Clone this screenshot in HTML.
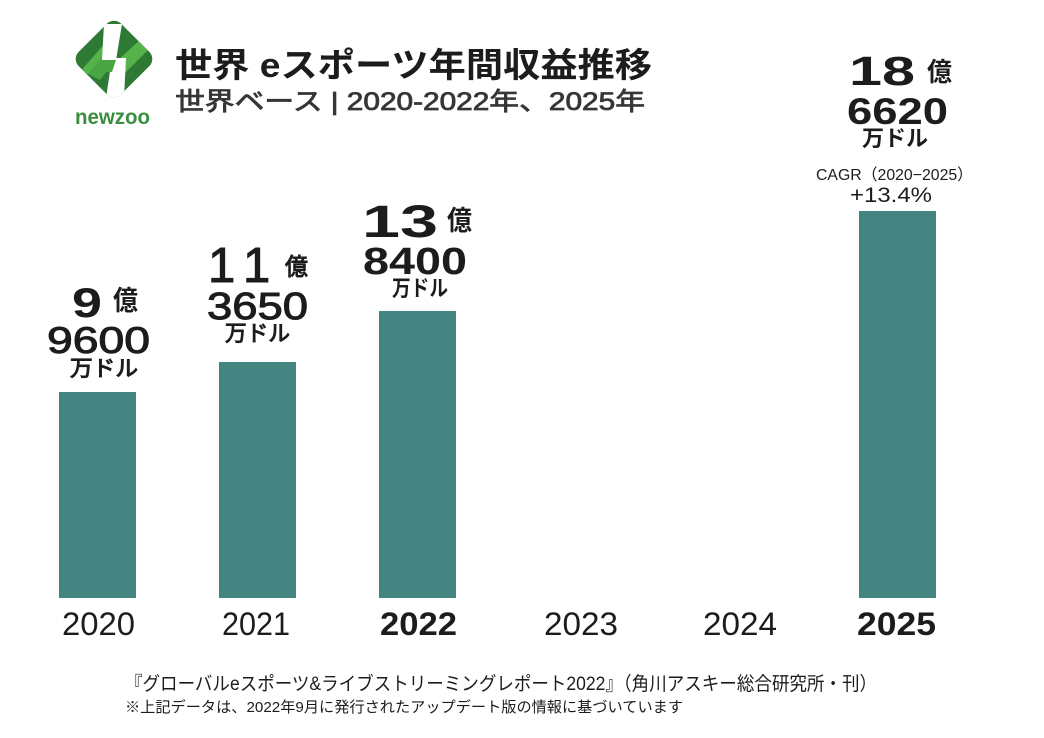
<!DOCTYPE html>
<html>
<head>
<meta charset="utf-8">
<style>
  html,body{margin:0;padding:0;background:#fff;}
  svg{display:block;}
  text{font-family:"Liberation Sans","Noto Sans CJK JP",sans-serif;fill:#1c1c1c;}
  .b{font-weight:700;}
  .m{stroke:#1c1c1c;stroke-width:1;}
</style>
</head>
<body>
<svg width="1044" height="738" viewBox="0 0 1044 738" xmlns="http://www.w3.org/2000/svg">
  <rect x="0" y="0" width="1044" height="738" fill="#ffffff"/>

  <!-- Logo -->
  <defs>
    <clipPath id="dm">
      <rect x="84" y="29" width="60" height="60" rx="10" ry="10" transform="rotate(45 114 59)"/>
    </clipPath>
  </defs>
  <rect x="84" y="29" width="60" height="60" rx="10" ry="10" transform="rotate(45 114 59)" fill="#2e7a35"/>
  <g clip-path="url(#dm)">
    <polygon points="78,74 106,42 116,42 88,74" fill="#56b24b"/>
    <polygon points="88,74 116,42 116,60 100,80" fill="#4aa543"/>
    <polygon points="116,62 142,38 152,46 124,74" fill="#56b24b"/>
    <polygon points="104,24 122,24 116,60 102,60" fill="#ffffff"/>
    <polygon points="112,58 126,58 124,98 106,98" fill="#ffffff"/>
    <polygon points="102,60 116,60 112,72 98,72" fill="#4aa543"/>
  </g>
  <text x="75" y="124" font-size="21" class="b" style="fill:#3a8f3f" textLength="75" lengthAdjust="spacingAndGlyphs">newzoo</text>

  <!-- Title -->
  <text x="175" y="77" font-size="34" class="b" textLength="477" lengthAdjust="spacingAndGlyphs">世界 eスポーツ年間収益推移</text>
  <text x="175" y="110" font-size="25" style="fill:#363636;stroke:#363636;stroke-width:0.8" textLength="470" lengthAdjust="spacingAndGlyphs">世界ベース | 2020-2022年、2025年</text>

  <!-- Bars -->
  <g fill="#458581">
    <rect x="59" y="392" width="77" height="206"/>
    <rect x="219" y="362" width="77" height="236"/>
    <rect x="379" y="311" width="77" height="287"/>
    <rect x="859" y="211" width="77" height="387"/>
  </g>

  <!-- 2020 label -->
  <text x="72" y="317" font-size="42" class="b" textLength="30" lengthAdjust="spacingAndGlyphs">9</text>
  <text x="113" y="310" font-size="27" class="b" textLength="25" lengthAdjust="spacingAndGlyphs">億</text>
  <text x="47" y="353" font-size="37" class="m" textLength="103" lengthAdjust="spacingAndGlyphs">9600</text>
  <text x="70" y="376" font-size="22" class="m" textLength="68" lengthAdjust="spacingAndGlyphs">万ドル</text>

  <!-- 2021 label -->
  <text x="208" y="282" font-size="49" class="m">1</text>
  <text x="243" y="282" font-size="49" class="m">1</text>
  <text x="285" y="275" font-size="24" class="m" textLength="23" lengthAdjust="spacingAndGlyphs">億</text>
  <text x="207" y="319" font-size="38" class="m" textLength="101" lengthAdjust="spacingAndGlyphs">3650</text>
  <text x="225" y="341" font-size="22" class="m" textLength="65" lengthAdjust="spacingAndGlyphs">万ドル</text>

  <!-- 2022 label -->
  <text x="362" y="237" font-size="45" class="b" textLength="76" lengthAdjust="spacingAndGlyphs">13</text>
  <text x="447" y="230" font-size="27" class="b" textLength="25" lengthAdjust="spacingAndGlyphs">億</text>
  <text x="363" y="274" font-size="38" class="b" textLength="104" lengthAdjust="spacingAndGlyphs">8400</text>
  <text x="392" y="296" font-size="22" class="b" textLength="56" lengthAdjust="spacingAndGlyphs">万ドル</text>

  <!-- 2025 label -->
  <text x="849" y="85" font-size="41" class="b" textLength="66" lengthAdjust="spacingAndGlyphs">18</text>
  <text x="927" y="81" font-size="26" class="b" textLength="25" lengthAdjust="spacingAndGlyphs">億</text>
  <text x="847" y="124" font-size="37" class="b" textLength="101" lengthAdjust="spacingAndGlyphs">6620</text>
  <text x="862" y="146" font-size="22" class="b" textLength="66" lengthAdjust="spacingAndGlyphs">万ドル</text>
  <text x="816" y="180" font-size="16" textLength="157" lengthAdjust="spacingAndGlyphs">CAGR（2020−2025）</text>
  <text x="850" y="202" font-size="21" textLength="82" lengthAdjust="spacingAndGlyphs">+13.4%</text>

  <!-- Year labels -->
  <text x="62" y="635" font-size="32" textLength="73" lengthAdjust="spacingAndGlyphs">2020</text>
  <text x="222" y="635" font-size="32" textLength="68" lengthAdjust="spacingAndGlyphs">2021</text>
  <text x="380" y="635" font-size="32" class="b" textLength="77" lengthAdjust="spacingAndGlyphs">2022</text>
  <text x="544" y="635" font-size="32" textLength="74" lengthAdjust="spacingAndGlyphs">2023</text>
  <text x="703" y="635" font-size="32" textLength="74" lengthAdjust="spacingAndGlyphs">2024</text>
  <text x="857" y="635" font-size="32" class="b" textLength="79" lengthAdjust="spacingAndGlyphs">2025</text>

  <!-- Footer -->
  <text x="125" y="690" font-size="19" textLength="752" lengthAdjust="spacingAndGlyphs">『グローバルeスポーツ&amp;ライブストリーミングレポート2022』（角川アスキー総合研究所・刊）</text>
  <text x="125" y="712" font-size="15" textLength="558" lengthAdjust="spacingAndGlyphs">※上記データは、2022年9月に発行されたアップデート版の情報に基づいています</text>
</svg>
</body>
</html>
